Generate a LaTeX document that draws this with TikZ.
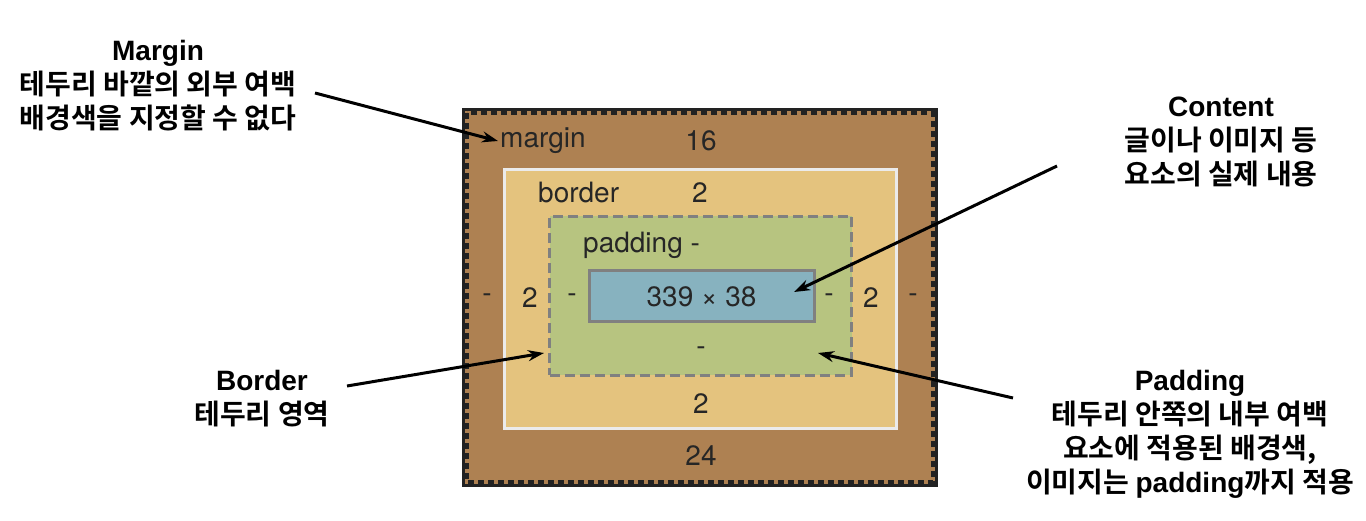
\documentclass[tikz,border=0pt]{standalone}
\usepackage{fontspec}
\setmainfont{TeX Gyre Heros}
\newfontfamily\kofont{Noto Sans CJK KR}[BoldFont={Noto Sans CJK KR Bold}]
\newfontfamily\latfont{Liberation Sans}
\newcommand\latin[1]{{\latfont\bfseries #1}}
\usetikzlibrary{arrows.meta}

\definecolor{marginbrown}{RGB}{174,129,82}
\definecolor{borderorange}{RGB}{228,195,126}
\definecolor{paddinggreen}{RGB}{183,196,128}
\definecolor{contentblue}{RGB}{135,178,191}
\definecolor{darkframe}{RGB}{34,34,34}
\definecolor{framegray}{RGB}{128,128,128}
\definecolor{framelight}{RGB}{235,235,235}
\definecolor{labelink}{RGB}{38,38,38}

\tikzset{
  boxlabel/.style={text=labelink,font=\fontsize{28}{32}\selectfont,inner sep=2pt},
  note/.style={align=center,font=\kofont\bfseries\fontsize{28}{34}\selectfont,inner sep=0pt},
  pointer/.style={line width=3pt,-{Stealth[length=16pt,width=11pt]}},
  layer/.style={minimum width=#1,inner sep=0pt,outer sep=0pt}
}

\begin{document}
\begin{tikzpicture}[x=1pt,y=-1pt]
  \useasboundingbox (0,0) rectangle (1366,521);
  % nested boxes
  \node[layer=476pt,minimum height=379pt,fill=marginbrown] (marginbox) at (700,297.5) {};
  \draw[darkframe,line width=3pt] ([shift={(1.5,1.5)}]marginbox.north west) rectangle ([shift={(-1.5,-1.5)}]marginbox.south east);
  \draw[darkframe,line width=4pt,dash pattern=on 6pt off 4pt] ([shift={(5,5)}]marginbox.north west) rectangle ([shift={(-5,-5)}]marginbox.south east);
  \node[layer=392pt,minimum height=259pt,fill=borderorange,draw=framelight,line width=3pt] (borderbox) at (700.5,299) {};
  \node[layer=302pt,minimum height=159pt,fill=paddinggreen,draw=framegray,line width=3pt,dash pattern=on 10pt off 5pt] (paddingbox) at (700.5,296) {};
  \node[layer=225pt,minimum height=51pt,fill=contentblue,draw=framegray,line width=3pt,boxlabel] (contentbox) at (701.5,296.5) {339 × 38};

  % values
  \node[boxlabel,anchor=west] (marginlabel) at (498,141) {margin};
  \node[boxlabel] (margintop) at (701,141) {16};
  \node[boxlabel,anchor=west] (borderlabel) at (536,193) {border};
  \node[boxlabel] (bordertop) at (700,193) {2};
  \node[boxlabel,anchor=west] (paddinglabel) at (581,245) {padding -};
  \foreach \x/\v/\n in {487/-/mleft,530/2/bleft,572/-/pleft,829/-/pright,871/2/bright,913/-/mright}
    \node[boxlabel] (\n) at (\x,298) {\v};
  \node[boxlabel] (paddingbottom) at (701,351) {-};
  \node[boxlabel] (borderbottom) at (701,404) {2};
  \node[boxlabel] (marginbottom) at (701,456) {24};

  % notes
  \node[note] (marginnote) at (158,86) {\latin{Margin}\\테두리 바깥의 외부 여백\\배경색을 지정할 수 없다};
  \node[note] (contentnote) at (1221,142) {\latin{Content}\\글이나 이미지 등\\요소의 실제 내용};
  \node[note] (bordernote) at (262,399) {\latin{Border}\\테두리 영역};
  \node[note] (paddingnote) at (1190,434) {\latin{Padding}\\테두리 안쪽의 내부 여백\\요소에 적용된 배경색,\\이미지는 \latin{padding}까지 적용};

  % pointers
  \coordinate (marginstart) at (315,93);
  \coordinate (contentstart) at (1057,166);
  \coordinate (borderstart) at (347,386);
  \coordinate (paddingstart) at (1013,398);
  \coordinate (contenttip) at (794,292);
  \coordinate (bordertip) at (544,353);
  \coordinate (paddingtip) at (818,353);
  \draw[pointer] (marginstart) -- (marginlabel.west);
  \draw[pointer] (contentstart) -- (contenttip);
  \draw[pointer] (borderstart) -- (bordertip);
  \draw[pointer] (paddingstart) -- (paddingtip);
\end{tikzpicture}
\end{document}
